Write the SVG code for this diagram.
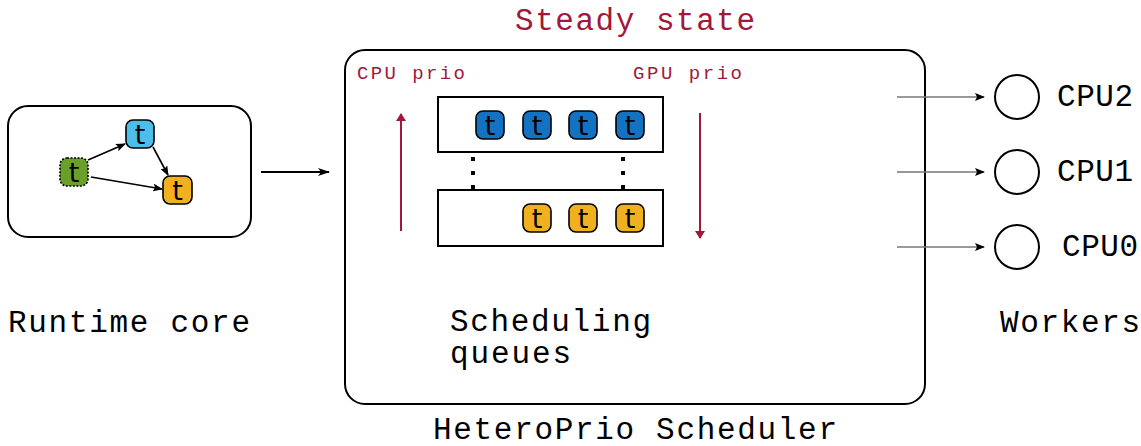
<svg xmlns="http://www.w3.org/2000/svg" width="1141" height="446" viewBox="0 0 1141 446">
<style>
.mono{font-family:"Liberation Mono","Courier New",monospace;}
.lbl{font-size:31px;fill:#000;}
.red{fill:#a0183a;}
.tk{stroke:#000;stroke-width:1.6;}
.tt{font-family:"DejaVu Sans",sans-serif;font-size:27px;text-anchor:middle;fill:#000;}
.box{fill:#fff;stroke:#000;stroke-width:2;}
</style>
<defs>
<marker id="ab" markerWidth="10" markerHeight="8" refX="9" refY="4" orient="auto" markerUnits="userSpaceOnUse"><path d="M0,0 L10,4 L0,8 L2,4 Z" fill="#000"/></marker>
<marker id="ar" markerWidth="8" markerHeight="10" refX="7" refY="5" orient="auto" markerUnits="userSpaceOnUse"><path d="M0,0 L8,5 L0,10 Z" fill="#a0183a"/></marker>
<marker id="ag" markerWidth="12" markerHeight="8" refX="11" refY="4" orient="auto" markerUnits="userSpaceOnUse"><path d="M0,0 L12,4 L0,8 L3,4 Z" fill="#000"/></marker>
</defs>
<rect width="1141" height="446" fill="#fff"/>

<g id="runtime-core">
<rect class="box" x="8" y="106" width="243" height="131" rx="20"/>
<rect x="126" y="120" width="28" height="28" rx="7" fill="#4dbde9" class="tk"/>
<text class="tt" x="140" y="144">t</text>
<rect x="60" y="158" width="28" height="28" rx="7" fill="#6a9f2a" stroke="#000" stroke-width="1.6" stroke-dasharray="2,1.5"/>
<text class="tt" x="74" y="182">t</text>
<rect x="163" y="176" width="29" height="28" rx="7" fill="#f0b020" class="tk"/>
<text class="tt" x="177.5" y="200">t</text>
<g stroke="#000" stroke-width="1.6" fill="none">
<line x1="88" y1="160" x2="125" y2="144" marker-end="url(#ab)"/>
<line x1="153" y1="147" x2="168" y2="175" marker-end="url(#ab)"/>
<line x1="91" y1="177" x2="162" y2="189" marker-end="url(#ab)"/>
</g>
<text class="mono lbl" x="8" y="332" textLength="242">Runtime core</text>
</g>

<g id="scheduler">
<rect class="box" x="345" y="50" width="580" height="354" rx="20"/>
<text class="mono red" x="515" y="30" font-size="31" textLength="240">Steady state</text>
<text class="mono red" x="357" y="79" font-size="19" textLength="108">CPU prio</text>
<text class="mono red" x="633" y="79" font-size="19" textLength="109">GPU prio</text>
<text class="mono lbl" x="450" y="331" textLength="201">Scheduling</text>
<text class="mono lbl" x="450" y="363" textLength="121">queues</text>
<text class="mono lbl" x="433" y="439" textLength="404">HeteroPrio Scheduler</text>
</g>

<g id="queue-gpu">
<rect x="438" y="97" width="225" height="55" fill="#fff" stroke="#000" stroke-width="2"/>
<g fill="#1372c2" class="tk">
<rect x="476" y="111" width="28" height="28" rx="7"/>
<rect x="523" y="111" width="28" height="28" rx="7"/>
<rect x="569" y="111" width="28" height="28" rx="7"/>
<rect x="616" y="111" width="28" height="28" rx="7"/>
</g>
<text class="tt" x="490" y="135">t</text>
<text class="tt" x="537" y="135">t</text>
<text class="tt" x="583" y="135">t</text>
<text class="tt" x="630" y="135">t</text>
</g>

<g id="queue-cpu">
<rect x="438" y="190" width="225" height="56" fill="#fff" stroke="#000" stroke-width="2"/>
<g fill="#f0b020" class="tk">
<rect x="523" y="204" width="28" height="28" rx="7"/>
<rect x="569" y="204" width="28" height="28" rx="7"/>
<rect x="616" y="204" width="28" height="28" rx="7"/>
</g>
<text class="tt" x="537" y="228">t</text>
<text class="tt" x="583" y="228">t</text>
<text class="tt" x="630" y="228">t</text>
</g>

<g id="workers">
<circle cx="1017" cy="97" r="22" fill="#fff" stroke="#000" stroke-width="2"/>
<circle cx="1017" cy="172" r="22" fill="#fff" stroke="#000" stroke-width="2"/>
<circle cx="1017" cy="247" r="22" fill="#fff" stroke="#000" stroke-width="2"/>
<text class="mono lbl" x="1057" y="106" font-size="30" textLength="76">CPU2</text>
<text class="mono lbl" x="1057" y="181" font-size="30" textLength="76">CPU1</text>
<text class="mono lbl" x="1062" y="256" font-size="30" textLength="76">CPU0</text>
<text class="mono lbl" x="1000" y="332" textLength="140">Workers</text>
</g>

<g id="connectors">
<line x1="261" y1="172" x2="329" y2="172" stroke="#000" stroke-width="2" marker-end="url(#ag)"/>
<g stroke="#000" stroke-width="4" stroke-dasharray="4,10">
<line x1="473" y1="157" x2="473" y2="191"/>
<line x1="623" y1="157" x2="623" y2="191"/>
</g>
<line x1="401" y1="231" x2="401" y2="114" stroke="#a0183a" stroke-width="2" marker-end="url(#ar)"/>
<line x1="700" y1="113" x2="700" y2="238" stroke="#a0183a" stroke-width="2" marker-end="url(#ar)"/>
<g stroke="#777" stroke-width="1.6">
<line x1="897" y1="97" x2="984" y2="97" marker-end="url(#ab)"/>
<line x1="897" y1="172" x2="984" y2="172" marker-end="url(#ab)"/>
<line x1="897" y1="247" x2="984" y2="247" marker-end="url(#ab)"/>
</g>
</g>
</svg>
